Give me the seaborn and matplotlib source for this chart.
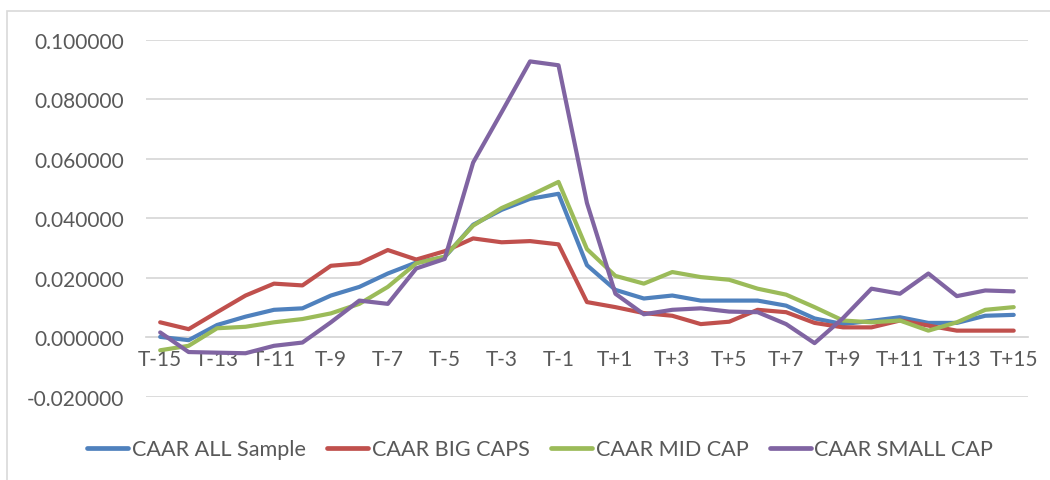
import matplotlib
matplotlib.use('Agg')
import matplotlib.pyplot as plt
import seaborn as sns
import pandas as pd
from matplotlib.patches import Rectangle

# event window T-15 .. T+15
days = ['T-%d' % d for d in range(15, 0, -1)] + ['T0'] + ['T+%d' % d for d in range(1, 16)]

caar_all = [0.0002, -0.0009, 0.0042, 0.0070, 0.0093, 0.0098, 0.0141, 0.0170, 0.0215, 0.0252,
            0.0270, 0.0379, 0.0429, 0.0466, 0.0483, 0.0243, 0.0160, 0.0131, 0.0141, 0.0124,
            0.0124, 0.0124, 0.0107, 0.0064, 0.0045, 0.0056, 0.0068, 0.0049, 0.0049, 0.0073,
            0.0076]
caar_big = [0.0051, 0.0028, 0.0085, 0.0141, 0.0181, 0.0175, 0.0241, 0.0249, 0.0294, 0.0262,
            0.0290, 0.0333, 0.0320, 0.0324, 0.0313, 0.0119, 0.0102, 0.0082, 0.0073, 0.0045,
            0.0053, 0.0093, 0.0085, 0.0049, 0.0034, 0.0034, 0.0057, 0.0040, 0.0023, 0.0023,
            0.0023]
caar_mid = [-0.0043, -0.0028, 0.0031, 0.0036, 0.0051, 0.0062, 0.0081, 0.0113, 0.0170, 0.0249,
            0.0272, 0.0376, 0.0435, 0.0477, 0.0523, 0.0297, 0.0207, 0.0181, 0.0220, 0.0203,
            0.0194, 0.0164, 0.0144, 0.0102, 0.0057, 0.0051, 0.0057, 0.0023, 0.0051, 0.0093,
            0.0102]
caar_small = [0.0017, -0.0049, -0.0051, -0.0053, -0.0028, -0.0017, 0.0051, 0.0124, 0.0113, 0.0232,
              0.0264, 0.0588, 0.0757, 0.0928, 0.0915, 0.0452, 0.0147, 0.0078, 0.0093, 0.0098,
              0.0087, 0.0085, 0.0045, -0.0019, 0.0065, 0.0164, 0.0147, 0.0215, 0.0139, 0.0158,
              0.0155]

series_names = ['CAAR ALL Sample', 'CAAR BIG CAPS', 'CAAR MID CAP', 'CAAR SMALL CAP']
colors = ['#4F81BD', '#C0504D', '#9BBB59', '#8064A2']

rows = []
for name, vals in zip(series_names, [caar_all, caar_big, caar_mid, caar_small]):
    for i, v in enumerate(vals):
        rows.append({'idx': i, 'value': v, 'series': name})
df = pd.DataFrame(rows)

sns.set_style('white')
plt.rcParams['font.family'] = ['Lato', 'DejaVu Sans']

fig = plt.figure(figsize=(10.5, 4.81), dpi=100)
ax = fig.add_axes([0.139, 0.1726, 0.840, 0.7422])

sns.lineplot(data=df, x='idx', y='value', hue='series', palette=colors,
             linewidth=3.0, ax=ax, legend=True)

ax.set_xlim(-0.5, len(days) - 0.5)
ax.set_ylim(-0.02, 0.1)
ax.set_yticks([-0.02, 0.0, 0.02, 0.04, 0.06, 0.08, 0.1])
ax.set_yticklabels(['%.6f' % t for t in ax.get_yticks()])
ax.set_xticks(range(0, len(days), 2))
ax.set_xticklabels(days[::2])
ax.set_xlabel('')
ax.set_ylabel('')
ax.yaxis.grid(True, color='#D9D9D9', linewidth=1.3)
ax.set_axisbelow(True)

for s in ['top', 'right', 'left']:
    ax.spines[s].set_visible(False)
ax.spines['bottom'].set_position(('data', 0))
ax.spines['bottom'].set_color('#D9D9D9')
ax.spines['bottom'].set_linewidth(1.3)
ax.spines['bottom'].set_zorder(0)

ax.tick_params(axis='y', length=0, pad=16, labelsize=15, labelcolor='#595959')
ax.tick_params(axis='x', length=0, pad=8, labelsize=15, labelcolor='#595959')

leg = ax.legend(loc='center', bbox_to_anchor=(0.447, -0.146), ncol=4, frameon=False,
                fontsize=15.6, handlelength=1.9, handletextpad=0.15, columnspacing=1.0)
for t in leg.get_texts():
    t.set_color('#595959')
for h in leg.get_lines():
    h.set_linewidth(3.4)

# chart area border
fig.patches.append(Rectangle((7 / 1050, -0.1), 1.2, 1 - 12 / 481 + 0.1, transform=fig.transFigure,
                             fill=False, edgecolor='#D9D9D9', linewidth=1.2))

fig.savefig('out.png', dpi=100)
